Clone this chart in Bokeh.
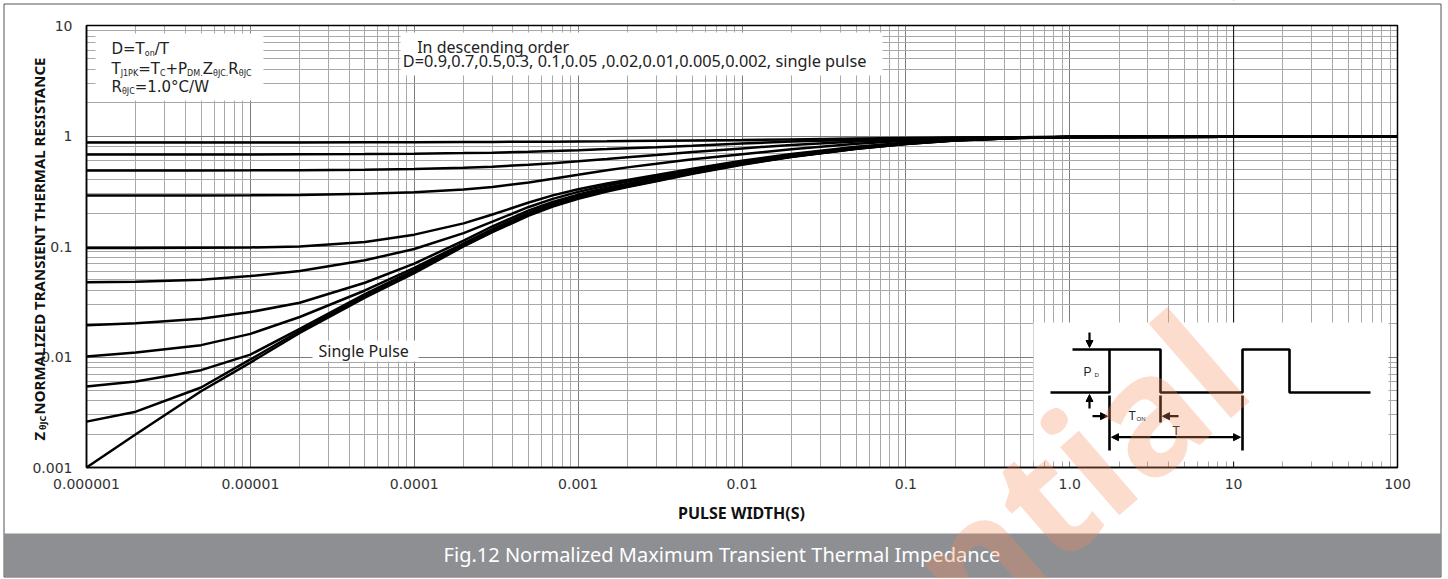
import math
from bokeh.plotting import figure
from bokeh.models import (Range1d, FixedTicker, CustomJSTickFormatter, Label, Arrow,
                          NormalHead, Span, LogAxis, Grid)
from bokeh.embed import file_html
from bokeh.resources import INLINE

# ---------------- data ----------------
pulse_width = [1e-6, 2e-6, 5e-6, 1e-5, 2e-5, 5e-5, 1e-4, 2e-4, 3e-4, 5e-4, 7e-4, 1e-3,
               1.5e-3, 2e-3, 3e-3, 5e-3, 1e-2, 2e-2, 5e-2, 1e-1, 2e-1, 5e-1, 1.0, 10.0, 100.0]

z_d090 = [0.873, 0.873, 0.874, 0.874, 0.875, 0.877, 0.879, 0.882, 0.884, 0.887, 0.889, 0.892,
          0.896, 0.900, 0.904, 0.909, 0.918, 0.932, 0.947, 0.957, 0.967, 0.976, 0.978, 0.982, 0.990]
z_d070 = [0.680, 0.680, 0.680, 0.681, 0.683, 0.687, 0.692, 0.700, 0.707, 0.720, 0.732, 0.745,
          0.762, 0.775, 0.792, 0.817, 0.856, 0.890, 0.925, 0.945, 0.962, 0.975, 0.978, 0.982, 0.990]
z_d050 = [0.488, 0.488, 0.488, 0.489, 0.491, 0.496, 0.503, 0.515, 0.527, 0.550, 0.568, 0.590,
          0.620, 0.643, 0.672, 0.715, 0.772, 0.830, 0.890, 0.925, 0.952, 0.973, 0.978, 0.982, 0.990]
z_d030 = [0.290, 0.290, 0.290, 0.291, 0.293, 0.300, 0.310, 0.328, 0.345, 0.380, 0.410, 0.445,
          0.490, 0.520, 0.560, 0.615, 0.685, 0.760, 0.850, 0.905, 0.945, 0.970, 0.978, 0.982, 0.990]
z_d010 = [0.097, 0.097, 0.0975, 0.098, 0.100, 0.110, 0.128, 0.162, 0.195, 0.250, 0.290, 0.330,
          0.372, 0.400, 0.443, 0.505, 0.597, 0.687, 0.798, 0.870, 0.927, 0.966, 0.978, 0.982, 0.990]
z_d005 = [0.0475, 0.048, 0.050, 0.054, 0.060, 0.075, 0.095, 0.132, 0.168, 0.228, 0.270, 0.312,
          0.357, 0.387, 0.430, 0.493, 0.585, 0.676, 0.790, 0.864, 0.923, 0.965, 0.978, 0.982, 0.990]
z_d002 = [0.0194, 0.0202, 0.0222, 0.0255, 0.031, 0.047, 0.070, 0.113, 0.152, 0.212, 0.253, 0.295,
          0.340, 0.370, 0.415, 0.479, 0.573, 0.665, 0.782, 0.858, 0.919, 0.964, 0.978, 0.982, 0.990]
z_d001 = [0.0101, 0.011, 0.0128, 0.0162, 0.023, 0.040, 0.064, 0.107, 0.144, 0.202, 0.243, 0.285,
          0.330, 0.360, 0.405, 0.470, 0.565, 0.658, 0.776, 0.854, 0.916, 0.963, 0.978, 0.982, 0.990]
z_d0005 = [0.0054, 0.0060, 0.0076, 0.0105, 0.018, 0.037, 0.061, 0.104, 0.140, 0.197, 0.237, 0.279,
           0.324, 0.354, 0.399, 0.464, 0.559, 0.653, 0.772, 0.851, 0.914, 0.962, 0.978, 0.982, 0.990]
z_d0002 = [0.0026, 0.0032, 0.0053, 0.0095, 0.0172, 0.0355, 0.059, 0.102, 0.137, 0.193, 0.233, 0.274,
           0.319, 0.349, 0.394, 0.459, 0.554, 0.649, 0.768, 0.848, 0.912, 0.961, 0.978, 0.982, 0.990]
z_single = [0.0010, 0.0020, 0.0049, 0.0089, 0.0165, 0.0345, 0.0575, 0.100, 0.135, 0.190, 0.230, 0.270,
            0.315, 0.345, 0.390, 0.455, 0.550, 0.645, 0.765, 0.845, 0.910, 0.960, 0.978, 0.982, 0.990]

curves = [z_d090, z_d070, z_d050, z_d030, z_d010, z_d005, z_d002, z_d001, z_d0005,
          z_d0002, z_single]

x_ticks = [1e-6, 1e-5, 1e-4, 1e-3, 1e-2, 1e-1, 1.0, 10.0, 100.0]
x_tick_labels = ["0.000001", "0.00001", "0.0001", "0.001", "0.01", "0.1", "1.0", "10", "100"]
y_ticks = [0.001, 0.01, 0.1, 1.0, 10.0]
y_tick_labels = ["0.001", "0.01", "0.1", "1", "10"]

x_title = "PULSE WIDTH(S)"
y_title = "NORMALIZED TRANSIENT THERMAL RESISTANCE"
caption = "Fig.12 Normalized Maximum Transient Thermal Impedance"
note_1 = "In descending order"
note_2 = "D=0.9,0.7,0.5,0.3, 0.1,0.05 ,0.02,0.01,0.005,0.002, single pulse"

# ---------------- geometry helpers (page pixels -> data / screen) ----------------
W, H = 1442, 578
FL, FT, FW, FH = 86, 25, 1311, 442      # chart area on the page
DX, DY = FW / 8.0, FH / 4.0


def px2x(px):
    return 10 ** (-6 + (px - FL) / DX)


def py2y(py):
    return 10 ** (1 - (py - FT) / DY)


def sx(px):
    return px


def sy(py):
    return H - py


p = figure(width=W, height=H, x_axis_type="log", y_axis_type="log",
           x_range=Range1d(px2x(0), px2x(W)), y_range=Range1d(py2y(H), py2y(0)),
           x_axis_location=None, y_axis_location=None, title_location=None,
           output_backend="svg", toolbar_location=None, min_border=0)
p.background_fill_color = "white"
p.border_fill_color = "white"
p.outline_line_color = None
p.grid.visible = False

minor_x = [m * 10.0 ** e for e in range(-6, 2) for m in range(2, 10)]
minor_y = [m * 10.0 ** e for e in range(-3, 1) for m in range(2, 10)]
xt = FixedTicker(ticks=x_ticks, minor_ticks=minor_x)
yt = FixedTicker(ticks=y_ticks, minor_ticks=minor_y)

grid_style = dict(grid_line_color="#7c7c7c", grid_line_width=1,
                  minor_grid_line_color="#a8a8a8", minor_grid_line_width=1)
xg = Grid(dimension=0, ticker=xt, bounds=(1e-6, 100), **grid_style)
yg = Grid(dimension=1, ticker=yt, bounds=(1e-3, 10), **grid_style)
if "cross_bounds" in Grid.properties():
    xg.cross_bounds = (1e-3, 10)
    yg.cross_bounds = (1e-6, 100)
p.add_layout(xg)
p.add_layout(yg)
p.add_layout(Span(location=10, dimension="height", line_color="#111111", line_width=1,
                  level="underlay"))

xaxis = LogAxis(ticker=xt, fixed_location=1e-3, bounds=(1e-6, 100),
                formatter=CustomJSTickFormatter(
                    args=dict(labels=x_tick_labels),
                    code="return labels[Math.round(Math.log10(tick)) + 6];"))
yaxis = LogAxis(ticker=yt, fixed_location=1e-6, bounds=(1e-3, 10),
                formatter=CustomJSTickFormatter(
                    args=dict(labels=y_tick_labels),
                    code="return labels[Math.round(Math.log10(tick)) + 3];"))
for ax in (xaxis, yaxis):
    ax.major_tick_line_color = None
    ax.minor_tick_line_color = None
    ax.axis_line_color = "black"
    ax.axis_line_width = 1.5
    ax.major_label_text_font = "DejaVu Sans"
    ax.major_label_text_font_size = "14px"
    ax.major_label_text_color = "#333333"
xaxis.major_label_standoff = 5
yaxis.major_label_standoff = 8
p.add_layout(xaxis, "below")
p.add_layout(yaxis, "left")

# white masks outside the chart area (keep grid lines inside it)
x_lo, x_hi, y_lo, y_hi = px2x(0), px2x(W), py2y(H), py2y(0)
p.quad(left=[x_lo, 100, 1e-6, 1e-6], right=[1e-6, x_hi, 100, 100],
       bottom=[y_lo, y_lo, 10, y_lo], top=[y_hi, y_hi, y_hi, 1e-3],
       fill_color="white", line_color=None)

# white boxes behind the notes and the inset
boxes = [(95, 263, 33, 100), (400, 882, 32, 75), (312, 418, 340, 361), (1033, 1388, 322, 461)]
p.quad(left=[px2x(b[0]) for b in boxes], right=[px2x(b[1]) for b in boxes],
       top=[py2y(b[2]) for b in boxes], bottom=[py2y(b[3]) for b in boxes],
       fill_color="white", line_color=None)

# curves
for zc in curves:
    p.line(pulse_width, zc, line_color="black", line_width=2.5)

# chart frame, outer border, caption band
p.quad(left=[1e-6], right=[100], bottom=[1e-3], top=[10], fill_color=None,
       line_color="black", line_width=1.5)
p.quad(left=[px2x(4)], right=[px2x(1440)], bottom=[py2y(576)], top=[py2y(533)],
       fill_color="#8e8f93", line_color=None)
p.quad(left=[px2x(3.5)], right=[px2x(1440.5)], bottom=[py2y(576.5)], top=[py2y(3.5)],
       fill_color=None, line_color="#555555", line_width=1)

# ---------------- texts ----------------
DJV = {"D": .770, "=": .838, "T": .611, "/": .337, "C": .698, "+": .838, "P": .603,
       "Z": .685, "R": .695, ".": .318, "1": .636, "0": .636, "°": .500, "W": .989,
       "J": .295, "K": .656, "M": .863, "θ": .602, "o": .612, "n": .634}
# measured offset between the requested and the drawn alphabetic baseline (in em)
BASE_FIX = {"Noto Sans": 0.33, "DejaVu Sans": 0.23, "Liberation Sans": 0.25}


def lab(txt, px, py, size, font="Noto Sans", style="normal", align="left",
        baseline="alphabetic", angle=0.0, color="#222222"):
    if baseline == "alphabetic":
        py -= BASE_FIX.get(font, 0.25) * size
    p.add_layout(Label(x=sx(px), y=sy(py), x_units="screen", y_units="screen", text=txt,
                       text_font=font, text_font_size=f"{size}px", text_font_style=style,
                       text_align=align, text_baseline=baseline, angle=angle,
                       text_color=color))


def run(pieces, x0, base):
    cur = x0
    for txt, size, dy in pieces:
        lab(txt, cur, base + dy, size, font="DejaVu Sans")
        cur += sum(DJV.get(c, 0.6) for c in txt) * size


MS, SS = 15, 8
run([("D=T", MS, 0), ("on", SS, 3), ("/T", MS, 0)], 111, 52)
run([("T", MS, 0), ("J1PK", SS, 3), ("=T", MS, 0), ("C", SS, 3), ("+P", MS, 0),
     ("DM.", SS, 3), ("Z", MS, 0), ("θJC.", SS, 3), ("R", MS, 0), ("θJC", SS, 3)], 111, 72)
run([("R", MS, 0), ("θJC", SS, 3), ("=1.0°C/W", MS, 0)], 111, 90)

lab(note_1, 416.7, 51.7, 16)
lab(note_2, 402.3, 66, 16.3)
lab("Single Pulse", 318, 355.5, 16)

# axis titles
lab(x_title, 741, 512, 16, style="bold", align="center", baseline="middle", color="#111111")
lab("Z", 38, 440, 15, style="bold", baseline="middle", angle=math.pi / 2, color="#111111")
lab("θJC", 41.5, 429.5, 9, style="bold", baseline="middle", angle=math.pi / 2, color="#111111")
lab(y_title, 38, 414, 15, style="bold", baseline="middle", angle=math.pi / 2, color="#111111")

# caption
lab(caption, 721.5, 554, 20, align="center", baseline="middle", color="white")

# ---------------- inset: pulse diagram ----------------
wave_px = [1050, 1109, 1109, 1160, 1160, 1242, 1242, 1289, 1289, 1370]
wave_py = [392, 392, 349, 349, 392, 392, 349, 349, 392, 392]
p.line([px2x(v) for v in wave_px], [py2y(v) for v in wave_py], line_color="black", line_width=2.6)
seg = [(1072, 349, 1109, 349), (1109, 395, 1109, 450), (1160, 395, 1160, 422),
       (1242, 395, 1242, 450)]
p.segment(x0=[px2x(s[0]) for s in seg], y0=[py2y(s[1]) for s in seg],
          x1=[px2x(s[2]) for s in seg], y1=[py2y(s[3]) for s in seg],
          line_color="black", line_width=2.6)


def arrow(x0, y0, x1, y1, both=False):
    kw = dict(end=NormalHead(size=7, fill_color="black", line_color="black", line_width=1),
              x_start=px2x(x0), y_start=py2y(y0), x_end=px2x(x1), y_end=py2y(y1),
              line_color="black", line_width=2.2)
    if both:
        kw["start"] = NormalHead(size=7, fill_color="black", line_color="black", line_width=1)
    p.add_layout(Arrow(**kw))


arrow(1089, 332, 1089, 347)
arrow(1089, 408, 1089, 394)
arrow(1092, 415.7, 1107, 415.7)
arrow(1178, 415.7, 1162, 415.7)
arrow(1111, 436.7, 1240, 436.7, both=True)

lab("P", 1083, 374, 12, font="Liberation Sans")
lab("D", 1094, 376, 6, font="Liberation Sans")
lab("T", 1128, 418, 12, font="Liberation Sans")
lab("ON", 1136, 420, 6, font="Liberation Sans")
lab("T", 1172, 433, 12, font="Liberation Sans")

# watermark (text baseline ends just right of the final "l")
WM_ANGLE = 0.716
WM_SIZE = 165
fix = BASE_FIX["Noto Sans"] * WM_SIZE
wm_x = 1252 - fix * math.sin(WM_ANGLE)
wm_y = 386 - fix * math.cos(WM_ANGLE)
p.add_layout(Label(x=sx(wm_x), y=sy(wm_y), x_units="screen", y_units="screen",
                   text="Confidential", text_font="Noto Sans", text_font_size=f"{WM_SIZE}px",
                   text_font_style="bold", text_color="#f58a5a", text_alpha=0.3,
                   text_align="right", text_baseline="alphabetic", angle=WM_ANGLE))

open("out.html", "w").write(file_html(p, INLINE))
